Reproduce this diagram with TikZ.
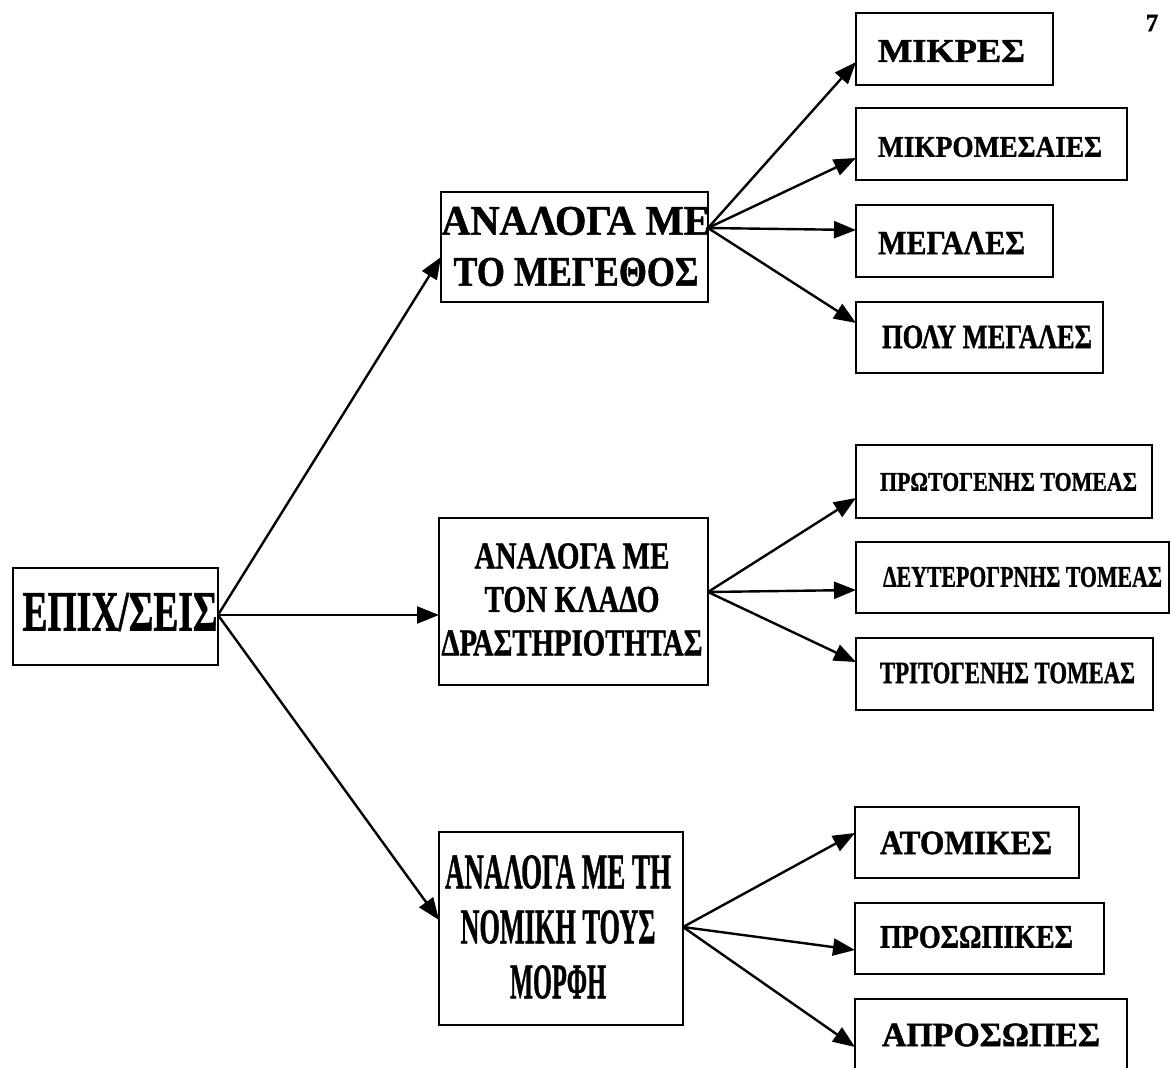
\documentclass[tikz,border=0pt]{standalone}
\usepackage{fontspec}
\setmainfont{Liberation Serif}[BoldFeatures={FakeBold=1.2}]
\usetikzlibrary{arrows.meta,calc}
\newcommand\fitw[2]{\resizebox{#1pt}{\height}{#2}}
\begin{document}
\begin{tikzpicture}[x=1pt,y=-1pt,
  box/.style={draw, line width=2.2pt, inner sep=0pt, outer sep=0pt},
  lbl/.style={inner sep=0pt, outer sep=0pt, align=center},
  arr/.style={line width=2.4pt, -{Triangle[length=22pt,width=17pt]}}]
\fill[white] (0,0) rectangle (1171,1068);
\useasboundingbox (0,0) rectangle (1171,1068);

% root
\node[box, minimum width=205pt, minimum height=97pt] (E) at (115.5,616.5) {};
\node[lbl, font={\fontsize{57}{60}\selectfont\bfseries}] (tE) at (120,612) {\fitw{195}{ΕΠΙΧ/ΣΕΙΣ}};

% middle boxes
\node[box, minimum width=267pt, minimum height=110pt] (B1) at (574.5,247) {};
\node[lbl, font={\fontsize{42}{51}\selectfont\bfseries}] (tB1) at (576,246.5)
  {\fitw{269}{ΑΝΑΛΟΓΑ ΜΕ}\\\fitw{245}{ΤΟ ΜΕΓΕΘΟΣ}};

\node[box, minimum width=269pt, minimum height=167pt] (B2) at (573.5,601.5) {};
\node[lbl, font={\fontsize{38}{43.5}\selectfont\bfseries}] (tB2) at (572,599.5)
  {\fitw{195}{ΑΝΑΛΟΓΑ ΜΕ}\\\fitw{175}{ΤΟΝ ΚΛΑΔΟ}\\\fitw{261}{ΔΡΑΣΤΗΡΙΟΤΗΤΑΣ}};

\node[box, minimum width=244pt, minimum height=193pt] (B3) at (561,928.5) {};
\node[lbl, font={\fontsize{50}{55}\selectfont\bfseries}] (tB3) at (558,927)
  {\fitw{226}{ΑΝΑΛΟΓΑ ΜΕ ΤΗ}\\\fitw{195}{ΝΟΜΙΚΗ ΤΟΥΣ}\\\fitw{96}{ΜΟΡΦΗ}};

% right boxes
\node[box, minimum width=197pt, minimum height=72pt] (R1) at (954.5,49) {};
\node[lbl, font={\fontsize{33}{36}\selectfont\bfseries}] (tR1) at (951.5,51) {\fitw{147}{ΜΙΚΡΕΣ}};
\node[box, minimum width=271pt, minimum height=72pt] (R2) at (991.5,144) {};
\node[lbl, font={\fontsize{30}{33}\selectfont\bfseries}] (tR2) at (990,147) {\fitw{224}{ΜΙΚΡΟΜΕΣΑΙΕΣ}};
\node[box, minimum width=197pt, minimum height=72pt] (R3) at (954.5,241) {};
\node[lbl, font={\fontsize{34}{36}\selectfont\bfseries}] (tR3) at (951.5,243) {\fitw{147}{ΜΕΓΑΛΕΣ}};
\node[box, minimum width=247pt, minimum height=71pt] (R4) at (979.5,337.5) {};
\node[lbl, font={\fontsize{34}{36}\selectfont\bfseries}] (tR4) at (987,337) {\fitw{210}{ΠΟΛΥ ΜΕΓΑΛΕΣ}};

\node[box, minimum width=296pt, minimum height=73pt] (R5) at (1004,481.5) {};
\node[lbl, font={\fontsize{27}{30}\selectfont\bfseries}] (tR5) at (1008.5,482) {\fitw{257}{ΠΡΩΤΟΓΕΝΗΣ ΤΟΜΕΑΣ}};
\node[box, minimum width=313pt, minimum height=71pt] (R6) at (1012.5,577.5) {};
\node[lbl, font={\fontsize{30}{33}\selectfont\bfseries}] (tR6) at (1022.5,577) {\fitw{279}{ΔΕΥΤΕΡΟΓΡΝΗΣ ΤΟΜΕΑΣ}};
\node[box, minimum width=297pt, minimum height=72pt] (R7) at (1004.5,674) {};
\node[lbl, font={\fontsize{31}{33}\selectfont\bfseries}] (tR7) at (1007.5,673) {\fitw{255}{ΤΡΙΤΟΓΕΝΗΣ ΤΟΜΕΑΣ}};

\node[box, minimum width=224pt, minimum height=71pt] (R8) at (967,842.5) {};
\node[lbl, font={\fontsize{34}{36}\selectfont\bfseries}] (tR8) at (966,843) {\fitw{172}{ΑΤΟΜΙΚΕΣ}};
\node[box, minimum width=249pt, minimum height=71pt] (R9) at (979.5,938.5) {};
\node[lbl, font={\fontsize{33}{36}\selectfont\bfseries}] (tR9) at (976.5,937) {\fitw{193}{ΠΡΟΣΩΠΙΚΕΣ}};
\node[box, minimum width=272pt, minimum height=73pt] (R10) at (991,1035.5) {};
\node[lbl, font={\fontsize{34}{36}\selectfont\bfseries}] (tR10) at (991,1035) {\fitw{218}{ΑΠΡΟΣΩΠΕΣ}};

% page number
\node[lbl, font={\fontsize{25}{27}\selectfont\bfseries}] (pg) at (1152,23) {7};

% connectors from root
\coordinate (sE) at ([yshift=1.5pt]E.east);
\draw[arr] (sE) -- ([yshift=-10pt]B1.west);
\draw[arr] (sE) -- (B2.west |- sE);
\draw[arr] (sE) -- ([yshift=8.5pt]B3.west);

% from B1
\coordinate (s1) at ([yshift=19pt]B1.east);
\draw[arr] (s1) -- ([yshift=-13pt]R1.west);
\draw[arr] (s1) -- ([yshift=-14pt]R2.west);
\draw[arr] (s1) -- ([yshift=11pt]R3.west);
\draw[arr] (s1) -- ([yshift=14.5pt]R4.west);

% from B2
\coordinate (s2) at ([yshift=9.5pt]B2.east);
\draw[arr] (s2) -- ([yshift=-16.5pt]R5.west);
\draw[arr] (s2) -- ([yshift=-12.5pt]R6.west);
\draw[arr] (s2) -- ([yshift=12pt]R7.west);

% from B3
\coordinate (s3) at ([yshift=1.5pt]B3.east);
\draw[arr] (s3) -- ([yshift=9.5pt]R8.west);
\draw[arr] (s3) -- ([yshift=-11.5pt]R9.west);
\draw[arr] (s3) -- ([yshift=-11.5pt]R10.west);
\end{tikzpicture}
\end{document}
